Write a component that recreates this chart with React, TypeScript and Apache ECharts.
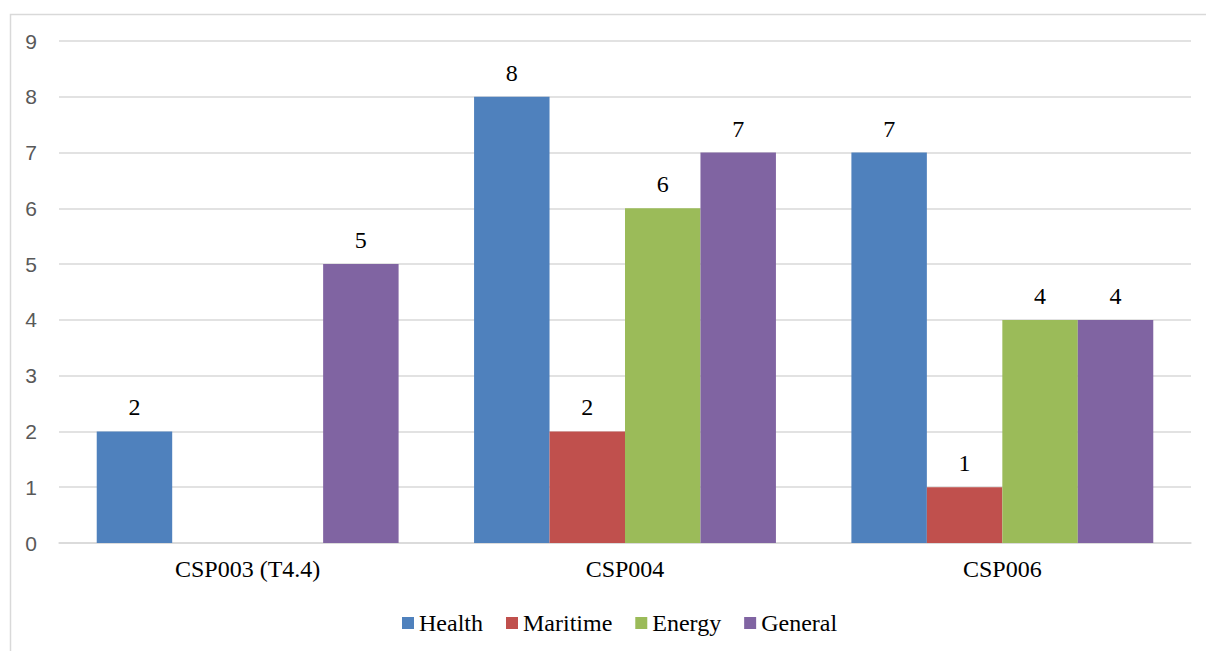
import React, { useEffect, useRef } from "react";
import * as echarts from "echarts";

const categories = ["CSP003 (T4.4)", "CSP004", "CSP006"];
const seriesNames = ["Health", "Maritime", "Energy", "General"];
const health = [2, 8, 7];
const maritime = [0, 2, 1];
const energy = [0, 6, 4];
const general = [5, 7, 4];
const colors = ["#4F81BD", "#C0504D", "#9BBB59", "#8064A2"];

const serif = "Liberation Serif";
const sans = "Liberation Sans";

export default function App() {
  const ref = useRef<HTMLDivElement>(null);

  useEffect(() => {
    if (!ref.current) return;
    const chart = echarts.init(ref.current, null, { renderer: "svg" });
    const values = [health, maritime, energy, general];
    chart.setOption({
      animation: false,
      backgroundColor: "#ffffff",
      graphic: [
        {
          type: "rect",
          left: 8,
          top: 12,
          shape: { width: 1400, height: 800 },
          style: { fill: "none", stroke: "#d9d9d9", lineWidth: 1.5 },
          silent: true,
          z: -1,
        },
      ],
      grid: { left: 59, right: 15, top: 41, bottom: 108, containLabel: false },
      legend: {
        data: seriesNames,
        top: 606,
        left: 397,
        icon: "rect",
        itemWidth: 12,
        itemHeight: 12,
        itemGap: 23,
        textStyle: { fontFamily: serif, fontSize: 24, color: "#000" },
      },
      xAxis: {
        type: "category",
        data: categories,
        axisLine: { show: true, lineStyle: { color: "#d9d9d9", width: 1.5 } },
        axisTick: { show: false },
        axisLabel: { fontFamily: serif, fontSize: 24, color: "#000", margin: 14 },
      },
      yAxis: {
        type: "value",
        min: 0,
        max: 9,
        interval: 1,
        axisLine: { show: false },
        axisTick: { show: false },
        splitLine: { lineStyle: { color: "#d9d9d9", width: 1.5 } },
        axisLabel: { fontFamily: sans, fontSize: 21, color: "#595959", margin: 22 },
      },
      series: seriesNames.map((name, i) => ({
        name,
        type: "bar",
        data: values[i],
        barGap: "0%",
        barCategoryGap: "20%",
        itemStyle: { color: colors[i] },
        label: {
          show: true,
          position: "top",
          distance: 12,
          fontFamily: serif,
          fontSize: 24,
          color: "#000",
          formatter: (p: any) => (p.value === 0 ? "" : String(p.value)),
        },
      })),
    });
    return () => chart.dispose();
  }, []);

  return (
    <div
      ref={ref}
      style={{ position: "fixed", left: 0, top: 0, width: 1206, height: 651 }}
    />
  );
}
